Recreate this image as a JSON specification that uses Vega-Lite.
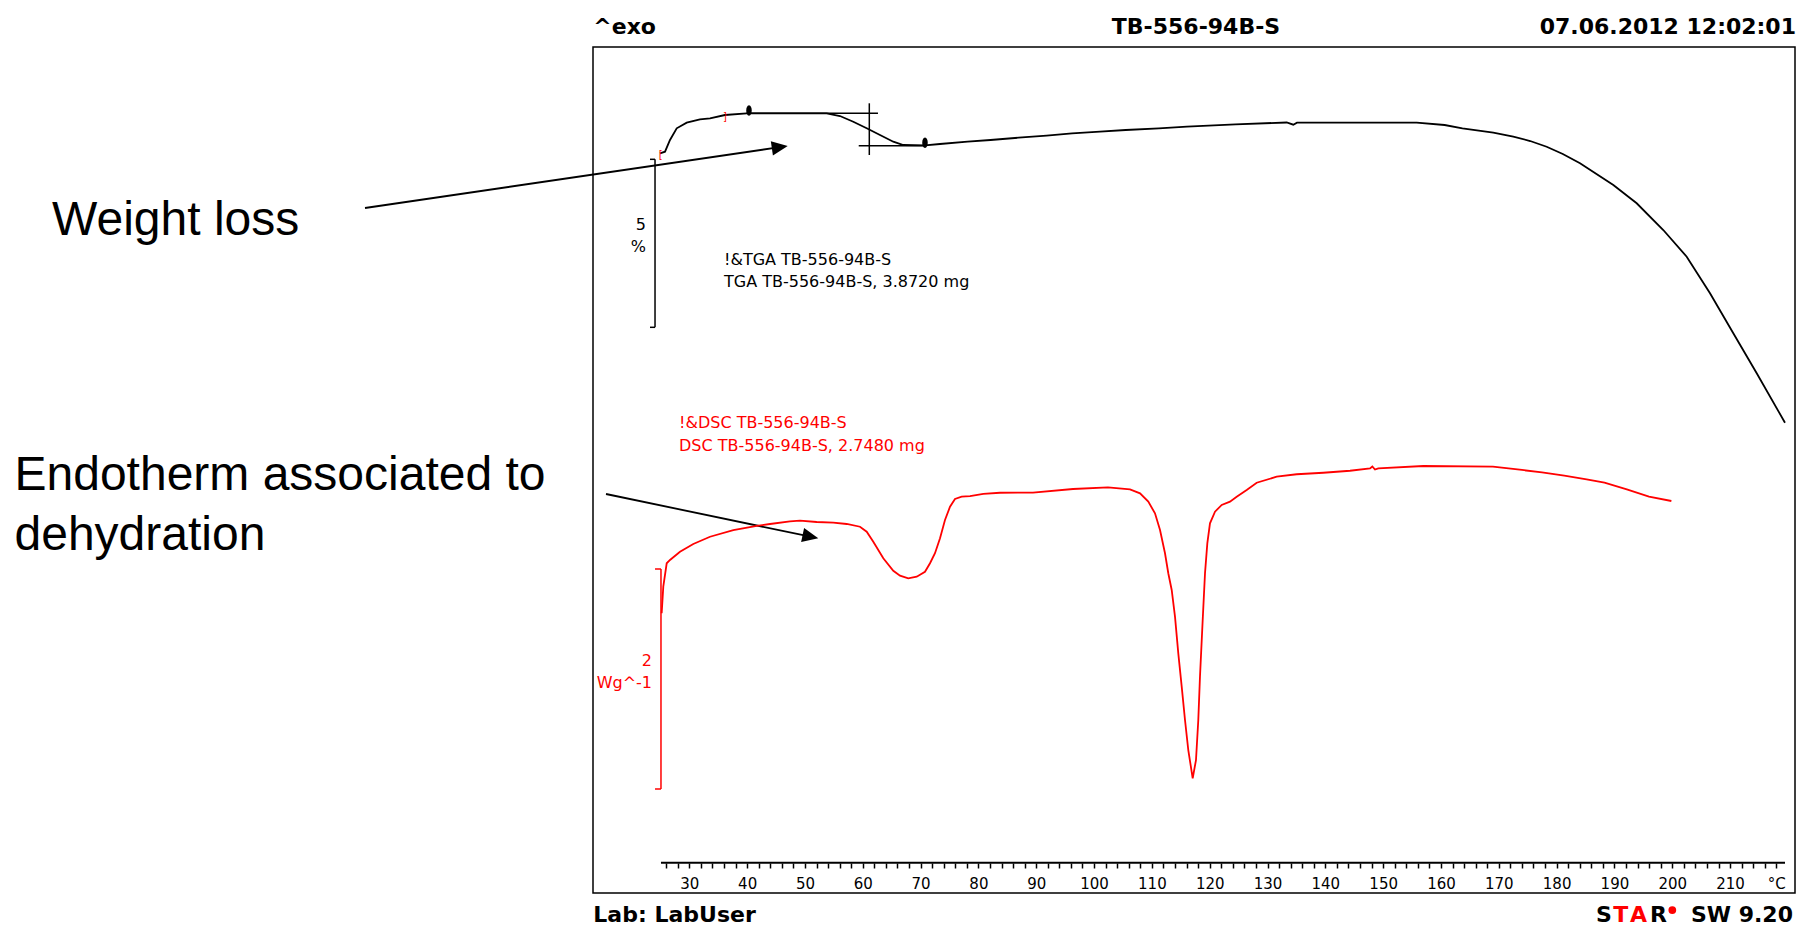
{
  "$schema": "https://vega.github.io/schema/vega-lite/v6.json",
  "width": 1202,
  "height": 846,
  "autosize": {"type": "none"},
  "padding": {"left": 593, "top": 47, "right": 5, "bottom": 34},
  "background": "#ffffff",
  "config": {"view": {"stroke": "#000000", "strokeWidth": 1.5}, "text": {"font": "DejaVu Sans"}},
  "datasets": {
    "tga": [
      {"T": 24.93, "w": 100.0}, {"T": 25.8, "w": 100.048}, {"T": 26.66, "w": 100.396}, {"T": 27.82, "w": 100.744},
      {"T": 29.55, "w": 100.911}, {"T": 31.84, "w": 101.012}, {"T": 33.58, "w": 101.042}, {"T": 36.17, "w": 101.14},
      {"T": 39.93, "w": 101.19}, {"T": 53.76, "w": 101.19}, {"T": 56.06, "w": 101.11}, {"T": 58.36, "w": 100.94},
      {"T": 60.68, "w": 100.744}, {"T": 62.98, "w": 100.545}, {"T": 65.28, "w": 100.345}, {"T": 67.01, "w": 100.247},
      {"T": 70.76, "w": 100.238}, {"T": 73.35, "w": 100.277}, {"T": 78.13, "w": 100.345}, {"T": 82.09, "w": 100.396},
      {"T": 86.95, "w": 100.464}, {"T": 91.79, "w": 100.524}, {"T": 96.19, "w": 100.595}, {"T": 101.03, "w": 100.643},
      {"T": 105.47, "w": 100.693}, {"T": 111.22, "w": 100.744}, {"T": 116.06, "w": 100.792}, {"T": 124.45, "w": 100.863},
      {"T": 133.32, "w": 100.917}, {"T": 134.46, "w": 100.851}, {"T": 135.1, "w": 100.911}, {"T": 155.8, "w": 100.911},
      {"T": 160.63, "w": 100.842}, {"T": 163.71, "w": 100.744}, {"T": 169.05, "w": 100.613}, {"T": 172.51, "w": 100.494},
      {"T": 175.43, "w": 100.366}, {"T": 178.28, "w": 100.196}, {"T": 181.07, "w": 99.979}, {"T": 184.05, "w": 99.702},
      {"T": 189.81, "w": 99.057}, {"T": 193.85, "w": 98.512}, {"T": 198.45, "w": 97.717}, {"T": 202.5, "w": 96.923},
      {"T": 206.53, "w": 95.833}, {"T": 210.56, "w": 94.643}, {"T": 214.61, "w": 93.452}, {"T": 219.5, "w": 91.982}
    ],
    "dsc": [
      {"T": 25.22, "d": -0.121}, {"T": 25.5, "d": 0.121}, {"T": 26.09, "d": 0.334}, {"T": 26.66, "d": 0.364},
      {"T": 28.39, "d": 0.439}, {"T": 30.69, "d": 0.509}, {"T": 33.58, "d": 0.575}, {"T": 37.61, "d": 0.636},
      {"T": 41.66, "d": 0.673}, {"T": 43.96, "d": 0.691}, {"T": 47.41, "d": 0.715}, {"T": 49.14, "d": 0.721},
      {"T": 52.03, "d": 0.709}, {"T": 54.9, "d": 0.703}, {"T": 57.22, "d": 0.691}, {"T": 59.52, "d": 0.666},
      {"T": 60.68, "d": 0.621}, {"T": 61.82, "d": 0.53}, {"T": 63.55, "d": 0.379}, {"T": 65.28, "d": 0.266},
      {"T": 66.44, "d": 0.221}, {"T": 67.87, "d": 0.197}, {"T": 69.33, "d": 0.212}, {"T": 70.76, "d": 0.257},
      {"T": 71.63, "d": 0.334}, {"T": 72.49, "d": 0.425}, {"T": 73.36, "d": 0.561}, {"T": 74.22, "d": 0.727},
      {"T": 75.09, "d": 0.848}, {"T": 75.95, "d": 0.918}, {"T": 77.11, "d": 0.939}, {"T": 78.55, "d": 0.945},
      {"T": 80.85, "d": 0.964}, {"T": 83.73, "d": 0.975}, {"T": 89.44, "d": 0.977}, {"T": 96.36, "d": 1.009},
      {"T": 102.41, "d": 1.023}, {"T": 106.22, "d": 1.006}, {"T": 107.95, "d": 0.97}, {"T": 109.38, "d": 0.894},
      {"T": 110.54, "d": 0.788}, {"T": 111.41, "d": 0.636}, {"T": 112.27, "d": 0.425}, {"T": 112.84, "d": 0.243},
      {"T": 113.43, "d": 0.091}, {"T": 114.0, "d": -0.152}, {"T": 114.57, "d": -0.485}, {"T": 115.16, "d": -0.788},
      {"T": 115.73, "d": -1.091}, {"T": 116.3, "d": -1.364}, {"T": 117.06, "d": -1.621}, {"T": 117.63, "d": -1.455},
      {"T": 118.03, "d": -1.091}, {"T": 118.32, "d": -0.697}, {"T": 118.79, "d": -0.182}, {"T": 119.19, "d": 0.243},
      {"T": 119.59, "d": 0.515}, {"T": 120.05, "d": 0.697}, {"T": 120.92, "d": 0.803}, {"T": 122.08, "d": 0.864},
      {"T": 123.51, "d": 0.894}, {"T": 124.67, "d": 0.939}, {"T": 126.4, "d": 1.0}, {"T": 128.13, "d": 1.066},
      {"T": 131.59, "d": 1.121}, {"T": 135.05, "d": 1.143}, {"T": 139.65, "d": 1.157}, {"T": 144.27, "d": 1.175},
      {"T": 147.73, "d": 1.197}, {"T": 148.13, "d": 1.214}, {"T": 148.59, "d": 1.186}, {"T": 149.16, "d": 1.197},
      {"T": 156.95, "d": 1.218}, {"T": 168.98, "d": 1.212}, {"T": 174.0, "d": 1.182}, {"T": 177.47, "d": 1.161},
      {"T": 181.33, "d": 1.13}, {"T": 185.19, "d": 1.097}, {"T": 188.28, "d": 1.066}, {"T": 192.14, "d": 1.006},
      {"T": 195.98, "d": 0.939}, {"T": 199.85, "d": 0.9}
    ],
    "tangents": [
      {"T": 39.93, "T2": 62.63, "w": 101.19, "w2": 101.19},
      {"T": 59.3, "T2": 70.76, "w": 100.226, "w2": 100.226},
      {"T": 61.13, "T2": 61.13, "w": 101.488, "w2": 99.949}
    ],
    "steps": [{"T": 40.32, "w": 101.274}, {"T": 70.76, "w": 100.3125}],
    "tgabar": [
      {"T": 24.07, "T2": 24.07, "w": 99.821, "w2": 94.821},
      {"T": 23.2, "T2": 24.07, "w": 99.821, "w2": 99.821},
      {"T": 23.2, "T2": 24.07, "w": 94.821, "w2": 94.821}
    ],
    "dscbar": [
      {"T": 25.1, "T2": 25.1, "d": 0.2818, "d2": -1.7182},
      {"T": 24.07, "T2": 25.1, "d": 0.2818, "d2": 0.2818},
      {"T": 24.07, "T2": 25.1, "d": -1.7182, "d2": -1.7182}
    ]
  },
  "layer": [
    {
      "layer": [
        {
          "data": {"name": "tga"},
          "mark": {"type": "line", "color": "#000000", "strokeWidth": 1.8},
          "encoding": {
            "x": {
              "field": "T",
              "type": "quantitative",
              "scale": {"domain": [13.343, 221.23], "nice": false, "zero": false},
              "axis": {
                "orient": "bottom",
                "offset": -30,
                "domain": false,
                "grid": false,
                "title": null,
                "tickCount": 500,
                "format": "d",
                "values": [26,28,30,32,34,36,38,40,42,44,46,48,50,52,54,56,58,60,62,64,66,68,70,72,74,76,78,80,82,84,86,88,90,92,94,96,98,100,102,104,106,108,110,112,114,116,118,120,122,124,126,128,130,132,134,136,138,140,142,144,146,148,150,152,154,156,158,160,162,164,166,168,170,172,174,176,178,180,182,184,186,188,190,192,194,196,198,200,202,204,206,208,210,212,214,216,218],
                "tickColor": "#000000",
                "tickSize": 5,
                "tickWidth": 1.5,
                "labelExpr": "datum.value == 218 ? '°C' : (datum.value % 10 == 0 ? format(datum.value, 'd') : '')",
                "labelFont": "DejaVu Sans",
                "labelFontSize": 15,
                "labelColor": "#000000",
                "labelPadding": 8,
                "labelOverlap": false,
                "labelFlush": false,
                "labelBound": false
              }
            },
            "y": {"field": "w", "type": "quantitative", "scale": {"domain": [77.9851, 103.1637], "nice": false, "zero": false}, "axis": null}
          }
        },
        {
          "data": {"name": "tangents"},
          "mark": {"type": "rule", "color": "#000000", "strokeWidth": 1.5},
          "encoding": {
            "x": {"field": "T", "type": "quantitative"},
            "x2": {"field": "T2"},
            "y": {"field": "w", "type": "quantitative", "axis": null},
            "y2": {"field": "w2"}
          }
        },
        {
          "data": {"name": "steps"},
          "mark": {"type": "point", "shape": "M0,-1C0.7,-1 0.7,1 0,1C-0.7,1 -0.7,-1 0,-1Z", "filled": true, "color": "#000000", "size": 110, "opacity": 1},
          "encoding": {
            "x": {"field": "T", "type": "quantitative"},
            "y": {"field": "w", "type": "quantitative", "axis": null}
          }
        },
        {
          "data": {"name": "tgabar"},
          "mark": {"type": "rule", "color": "#000000", "strokeWidth": 1.5},
          "encoding": {
            "x": {"field": "T", "type": "quantitative"},
            "x2": {"field": "T2"},
            "y": {"field": "w", "type": "quantitative", "axis": null},
            "y2": {"field": "w2"}
          }
        },
        {
          "data": {"values": [{}]},
          "mark": {"type": "text", "text": "[", "color": "#ff0000", "fontSize": 10, "align": "center", "baseline": "middle"},
          "encoding": {"x": {"datum": 25.05, "type": "quantitative"}, "y": {"datum": 99.958, "type": "quantitative", "axis": null}}
        },
        {
          "data": {"values": [{}]},
          "mark": {"type": "text", "text": "]", "color": "#ff0000", "fontSize": 10, "align": "center", "baseline": "middle"},
          "encoding": {"x": {"datum": 36.17, "type": "quantitative"}, "y": {"datum": 101.071, "type": "quantitative", "axis": null}}
        },
        {
          "data": {"values": [{}]},
          "mark": {"type": "text", "text": "5", "color": "#000000", "fontSize": 16, "align": "right", "baseline": "alphabetic"},
          "encoding": {"x": {"datum": 22.51, "type": "quantitative"}, "y": {"datum": 97.717, "type": "quantitative", "axis": null}}
        },
        {
          "data": {"values": [{}]},
          "mark": {"type": "text", "text": "%", "color": "#000000", "fontSize": 16, "align": "right", "baseline": "alphabetic"},
          "encoding": {"x": {"datum": 22.51, "type": "quantitative"}, "y": {"datum": 97.063, "type": "quantitative", "axis": null}}
        },
        {
          "data": {"values": [{}]},
          "mark": {"type": "text", "text": "!&TGA TB-556-94B-S", "color": "#000000", "fontSize": 16, "align": "left", "baseline": "alphabetic"},
          "encoding": {"x": {"datum": 36.0, "type": "quantitative"}, "y": {"datum": 96.661, "type": "quantitative", "axis": null}}
        },
        {
          "data": {"values": [{}]},
          "mark": {"type": "text", "text": "TGA TB-556-94B-S, 3.8720 mg", "color": "#000000", "fontSize": 16, "align": "left", "baseline": "alphabetic"},
          "encoding": {"x": {"datum": 36.0, "type": "quantitative"}, "y": {"datum": 96.021, "type": "quantitative", "axis": null}}
        },
        {
          "data": {"values": [{}]},
          "mark": {"type": "rule", "color": "#000000", "strokeWidth": 2},
          "encoding": {"x": {"datum": 25.1, "type": "quantitative"}, "x2": {"datum": 219.5}, "y": {"datum": 78.887, "type": "quantitative", "axis": null}}
        },
        {
          "data": {"values": [{}]},
          "mark": {"type": "text", "text": "^exo", "color": "#000000", "fontWeight": "bold", "fontSize": 22, "align": "left", "baseline": "alphabetic"},
          "encoding": {"x": {"datum": 13.4, "type": "quantitative"}, "y": {"datum": 103.565, "type": "quantitative", "axis": null}}
        },
        {
          "data": {"values": [{}]},
          "mark": {"type": "text", "text": "TB-556-94B-S", "color": "#000000", "fontWeight": "bold", "fontSize": 22, "align": "center", "baseline": "alphabetic"},
          "encoding": {"x": {"datum": 117.63, "type": "quantitative"}, "y": {"datum": 103.565, "type": "quantitative", "axis": null}}
        },
        {
          "data": {"values": [{}]},
          "mark": {"type": "text", "text": "07.06.2012 12:02:01", "color": "#000000", "fontWeight": "bold", "fontSize": 22, "align": "right", "baseline": "alphabetic"},
          "encoding": {"x": {"datum": 221.4, "type": "quantitative"}, "y": {"datum": 103.565, "type": "quantitative", "axis": null}}
        },
        {
          "data": {"values": [{}]},
          "mark": {"type": "text", "text": "Lab: LabUser", "color": "#000000", "fontWeight": "bold", "fontSize": 22, "align": "left", "baseline": "alphabetic"},
          "encoding": {"x": {"datum": 13.4, "type": "quantitative"}, "y": {"datum": 77.131, "type": "quantitative", "axis": null}}
        },
        {
          "data": {"values": [{}]},
          "mark": {"type": "text", "text": "S", "color": "#000000", "fontWeight": "bold", "fontSize": 22, "align": "left", "baseline": "alphabetic"},
          "encoding": {"x": {"datum": 186.81, "type": "quantitative"}, "y": {"datum": 77.131, "type": "quantitative", "axis": null}}
        },
        {
          "data": {"values": [{}]},
          "mark": {"type": "text", "text": "T", "color": "#ff0000", "fontWeight": "bold", "fontSize": 22, "align": "left", "baseline": "alphabetic"},
          "encoding": {"x": {"datum": 189.8, "type": "quantitative"}, "y": {"datum": 77.131, "type": "quantitative", "axis": null}}
        },
        {
          "data": {"values": [{}]},
          "mark": {"type": "text", "text": "A", "color": "#ff0000", "fontWeight": "bold", "fontSize": 22, "align": "left", "baseline": "alphabetic"},
          "encoding": {"x": {"datum": 192.69, "type": "quantitative"}, "y": {"datum": 77.131, "type": "quantitative", "axis": null}}
        },
        {
          "data": {"values": [{}]},
          "mark": {"type": "text", "text": "R", "color": "#000000", "fontWeight": "bold", "fontSize": 22, "align": "left", "baseline": "alphabetic"},
          "encoding": {"x": {"datum": 196.15, "type": "quantitative"}, "y": {"datum": 77.131, "type": "quantitative", "axis": null}}
        },
        {
          "data": {"values": [{}]},
          "mark": {"type": "point", "shape": "circle", "filled": true, "color": "#ff0000", "size": 60, "opacity": 1},
          "encoding": {"x": {"datum": 200.01, "type": "quantitative"}, "y": {"datum": 77.479, "type": "quantitative", "axis": null}}
        },
        {
          "data": {"values": [{}]},
          "mark": {"type": "text", "text": "SW 9.20", "color": "#000000", "fontWeight": "bold", "fontSize": 22, "align": "right", "baseline": "alphabetic"},
          "encoding": {"x": {"datum": 220.88, "type": "quantitative"}, "y": {"datum": 77.131, "type": "quantitative", "axis": null}}
        },
        {
          "data": {"values": [{}]},
          "mark": {"type": "text", "text": "Weight loss", "color": "#000000", "font": "Liberation Sans", "fontSize": 48, "align": "left", "baseline": "alphabetic"},
          "encoding": {"x": {"datum": -80.22, "type": "quantitative"}, "y": {"datum": 97.568, "type": "quantitative", "axis": null}}
        },
        {
          "data": {"values": [{}]},
          "mark": {"type": "text", "text": "Endotherm associated to", "color": "#000000", "font": "Liberation Sans", "fontSize": 48, "align": "left", "baseline": "alphabetic"},
          "encoding": {"x": {"datum": -86.71, "type": "quantitative"}, "y": {"datum": 89.979, "type": "quantitative", "axis": null}}
        },
        {
          "data": {"values": [{}]},
          "mark": {"type": "text", "text": "dehydration", "color": "#000000", "font": "Liberation Sans", "fontSize": 48, "align": "left", "baseline": "alphabetic"},
          "encoding": {"x": {"datum": -86.71, "type": "quantitative"}, "y": {"datum": 88.193, "type": "quantitative", "axis": null}}
        },
        {
          "data": {"values": [{}]},
          "mark": {"type": "rule", "color": "#000000", "strokeWidth": 1.8},
          "encoding": {"x": {"datum": -26.09, "type": "quantitative"}, "x2": {"datum": 45.65}, "y": {"datum": 98.372, "type": "quantitative", "axis": null}, "y2": {"datum": 100.183}}
        },
        {
          "data": {"values": [{}]},
          "mark": {"type": "point", "shape": "M1,0L-1,-0.9L-1,0.9Z", "filled": true, "color": "#000000", "size": 256, "angle": -8.35, "opacity": 1},
          "encoding": {"x": {"datum": 45.65, "type": "quantitative"}, "y": {"datum": 100.183, "type": "quantitative", "axis": null}}
        },
        {
          "data": {"values": [{}]},
          "mark": {"type": "rule", "color": "#000000", "strokeWidth": 1.8},
          "encoding": {"x": {"datum": 15.59, "type": "quantitative"}, "x2": {"datum": 50.95}, "y": {"datum": 89.86, "type": "quantitative", "axis": null}, "y2": {"datum": 88.59}}
        },
        {
          "data": {"values": [{}]},
          "mark": {"type": "point", "shape": "M1,0L-1,-0.9L-1,0.9Z", "filled": true, "color": "#000000", "size": 256, "angle": 11.79, "opacity": 1},
          "encoding": {"x": {"datum": 50.95, "type": "quantitative"}, "y": {"datum": 88.59, "type": "quantitative", "axis": null}}
        }
      ]
    },
    {
      "layer": [
        {
          "data": {"name": "dsc"},
          "mark": {"type": "line", "color": "#ff0000", "strokeWidth": 1.8},
          "encoding": {
            "x": {"field": "T", "type": "quantitative"},
            "y": {"field": "d", "type": "quantitative", "scale": {"domain": [-2.66364, 5.02727], "nice": false, "zero": false}, "axis": null}
          }
        },
        {
          "data": {"name": "dscbar"},
          "mark": {"type": "rule", "color": "#ff0000", "strokeWidth": 1.5},
          "encoding": {
            "x": {"field": "T", "type": "quantitative"},
            "x2": {"field": "T2"},
            "y": {"field": "d", "type": "quantitative", "axis": null},
            "y2": {"field": "d2"}
          }
        },
        {
          "data": {"values": [{}]},
          "mark": {"type": "text", "text": "2", "color": "#ff0000", "fontSize": 16, "align": "right", "baseline": "alphabetic"},
          "encoding": {"x": {"datum": 23.55, "type": "quantitative"}, "y": {"datum": -0.597, "type": "quantitative", "axis": null}}
        },
        {
          "data": {"values": [{}]},
          "mark": {"type": "text", "text": "Wg^-1", "color": "#ff0000", "fontSize": 16, "align": "right", "baseline": "alphabetic"},
          "encoding": {"x": {"datum": 23.55, "type": "quantitative"}, "y": {"datum": -0.8, "type": "quantitative", "axis": null}}
        },
        {
          "data": {"values": [{}]},
          "mark": {"type": "text", "text": "!&DSC TB-556-94B-S", "color": "#ff0000", "fontSize": 16, "align": "left", "baseline": "alphabetic"},
          "encoding": {"x": {"datum": 28.22, "type": "quantitative"}, "y": {"datum": 1.561, "type": "quantitative", "axis": null}}
        },
        {
          "data": {"values": [{}]},
          "mark": {"type": "text", "text": "DSC TB-556-94B-S, 2.7480 mg", "color": "#ff0000", "fontSize": 16, "align": "left", "baseline": "alphabetic"},
          "encoding": {"x": {"datum": 28.22, "type": "quantitative"}, "y": {"datum": 1.3545, "type": "quantitative", "axis": null}}
        }
      ]
    }
  ],
  "resolve": {"scale": {"y": "independent"}}
}
